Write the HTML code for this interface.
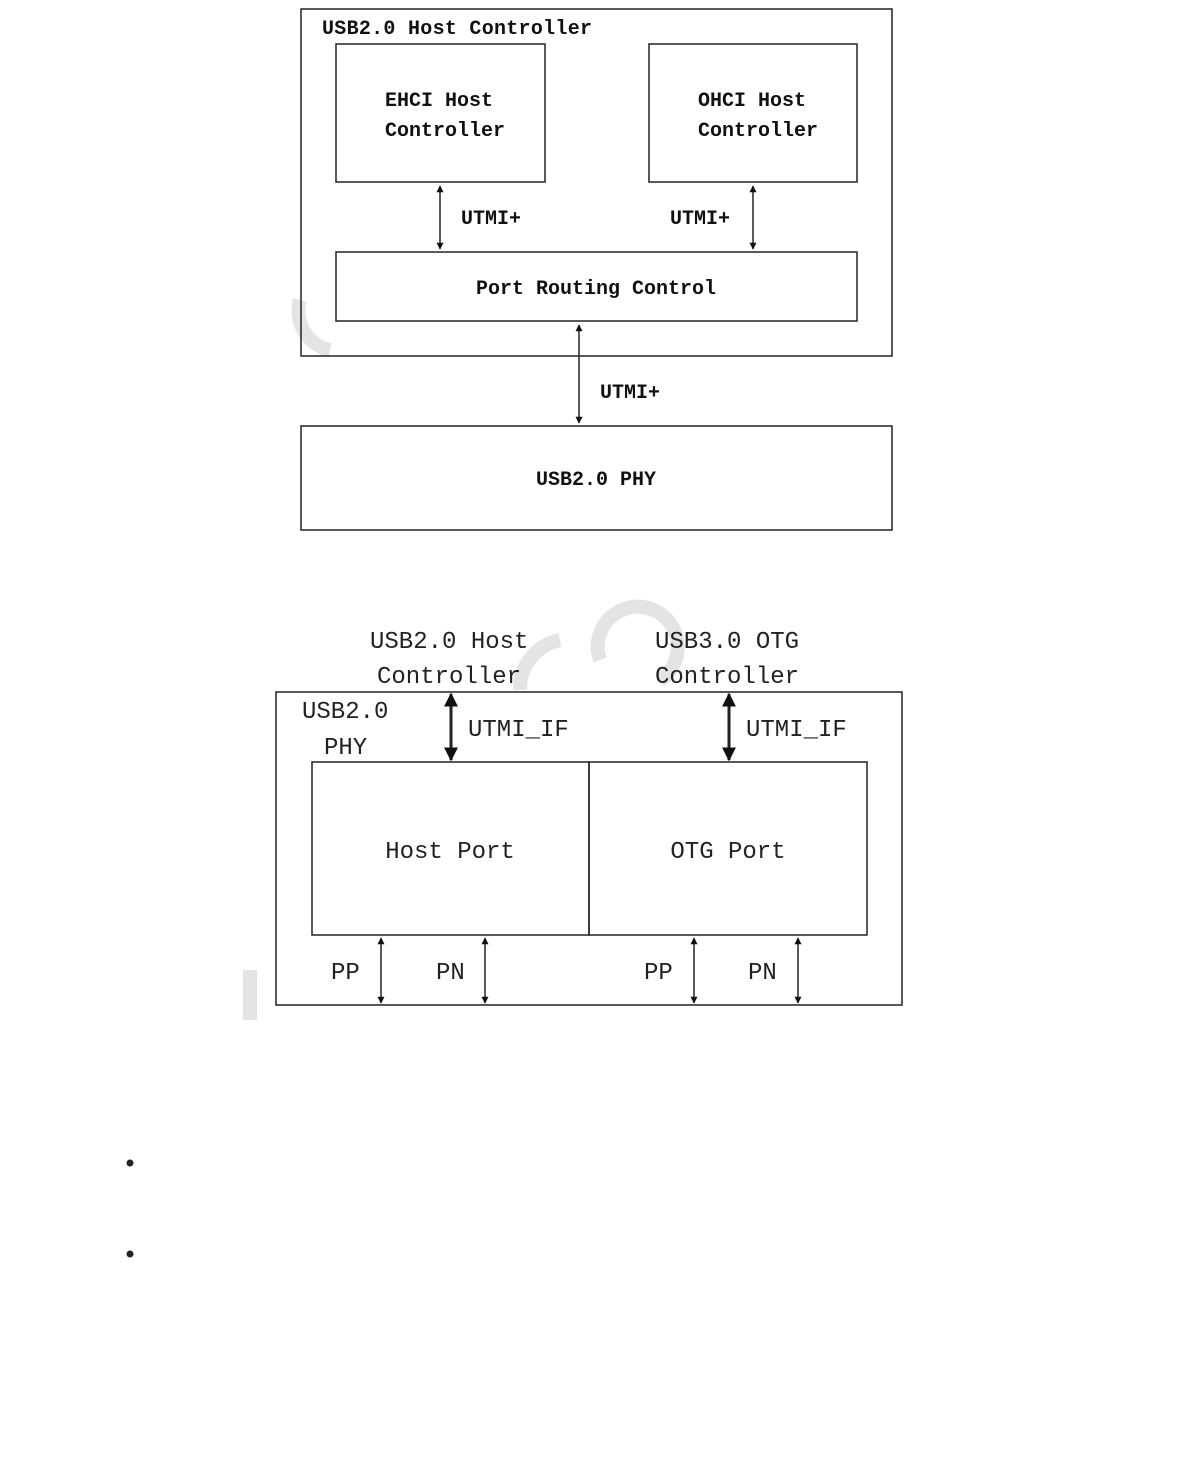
<!DOCTYPE html>
<html><head><meta charset="utf-8"><style>
html,body{margin:0;padding:0;background:#fff;width:1190px;height:1458px;overflow:hidden}
svg{display:block}
.b{font-family:"Liberation Mono","Noto Sans CJK SC",monospace;font-weight:bold;font-size:20px;fill:#111}
.r{font-family:"Liberation Mono","Noto Serif CJK SC",monospace;font-size:24px;fill:#222}
</style></head><body>
<svg width="1190" height="1458" viewBox="0 0 1190 1458" xmlns="http://www.w3.org/2000/svg">
<defs>
<marker id="a" viewBox="0 0 10 10" refX="9" refY="5" markerWidth="7" markerHeight="10" orient="auto-start-reverse" markerUnits="userSpaceOnUse"><path d="M0,0 L10,5 L0,10 z" fill="#111"/></marker>
<marker id="t" viewBox="0 0 10 10" refX="9" refY="5" markerWidth="14" markerHeight="18" orient="auto-start-reverse" markerUnits="userSpaceOnUse"><path d="M0,0 L10,5 L0,10 z" fill="#111"/></marker>
</defs>
<!-- watermark hints -->
<g fill="none" stroke="#e4e4e4" stroke-width="14">
<path d="M300,300 A40,40 0 0 0 330,350"/>
<path d="M600,660 A40,40 0 1 1 660,680"/>
<path d="M520,690 A50,50 0 0 1 560,640"/>
<path d="M250,970 L250,1020"/>
</g>
<g fill="none" stroke="#222" stroke-width="1.5">
<rect x="301" y="9" width="591" height="347"/>
<rect x="336" y="44" width="209" height="138"/>
<rect x="649" y="44" width="208" height="138"/>
<rect x="336" y="252" width="521" height="69"/>
<rect x="301" y="426" width="591" height="104"/>
<line x1="440" y1="186" x2="440" y2="249" marker-start="url(#a)" marker-end="url(#a)"/>
<line x1="753" y1="186" x2="753" y2="249" marker-start="url(#a)" marker-end="url(#a)"/>
<line x1="579" y1="325" x2="579" y2="423" marker-start="url(#a)" marker-end="url(#a)"/>
<rect x="276" y="692" width="626" height="313"/>
<rect x="312" y="762" width="277" height="173"/>
<rect x="589" y="762" width="278" height="173"/>
<line x1="451" y1="694" x2="451" y2="760" stroke-width="3" marker-start="url(#t)" marker-end="url(#t)"/>
<line x1="729" y1="694" x2="729" y2="760" stroke-width="3" marker-start="url(#t)" marker-end="url(#t)"/>
<line x1="381" y1="938" x2="381" y2="1003" marker-start="url(#a)" marker-end="url(#a)"/>
<line x1="485" y1="938" x2="485" y2="1003" marker-start="url(#a)" marker-end="url(#a)"/>
<line x1="694" y1="938" x2="694" y2="1003" marker-start="url(#a)" marker-end="url(#a)"/>
<line x1="798" y1="938" x2="798" y2="1003" marker-start="url(#a)" marker-end="url(#a)"/>
</g>
<text class="b" x="322" y="34" textLength="270">USB2.0 Host Controller</text>
<text class="b" x="385" y="106">EHCI Host</text>
<text class="b" x="385" y="136">Controller</text>
<text class="b" x="698" y="106">OHCI Host</text>
<text class="b" x="698" y="136">Controller</text>
<text class="b" x="461" y="224">UTMI+</text>
<text class="b" x="670" y="224">UTMI+</text>
<text class="b" x="596" y="294" text-anchor="middle">Port Routing Control</text>
<text class="b" x="600" y="398">UTMI+</text>
<text class="b" x="596" y="485" text-anchor="middle">USB2.0 PHY</text>
<text class="r" x="370" y="648">USB2.0 Host</text>
<text class="r" x="377" y="683">Controller</text>
<text class="r" x="655" y="648">USB3.0 OTG</text>
<text class="r" x="655" y="683">Controller</text>
<text class="r" x="302" y="718">USB2.0</text>
<text class="r" x="324" y="754">PHY</text>
<text class="r" x="468" y="736">UTMI_IF</text>
<text class="r" x="746" y="736">UTMI_IF</text>
<text class="r" x="450" y="858" text-anchor="middle">Host Port</text>
<text class="r" x="728" y="858" text-anchor="middle">OTG Port</text>
<text class="r" x="331" y="979">PP</text>
<text class="r" x="436" y="979">PN</text>
<text class="r" x="644" y="979">PP</text>
<text class="r" x="748" y="979">PN</text>
<circle cx="130" cy="1163" r="3.5" fill="#222"/>
<circle cx="130" cy="1254" r="3.5" fill="#222"/>
</svg>
</body></html>
